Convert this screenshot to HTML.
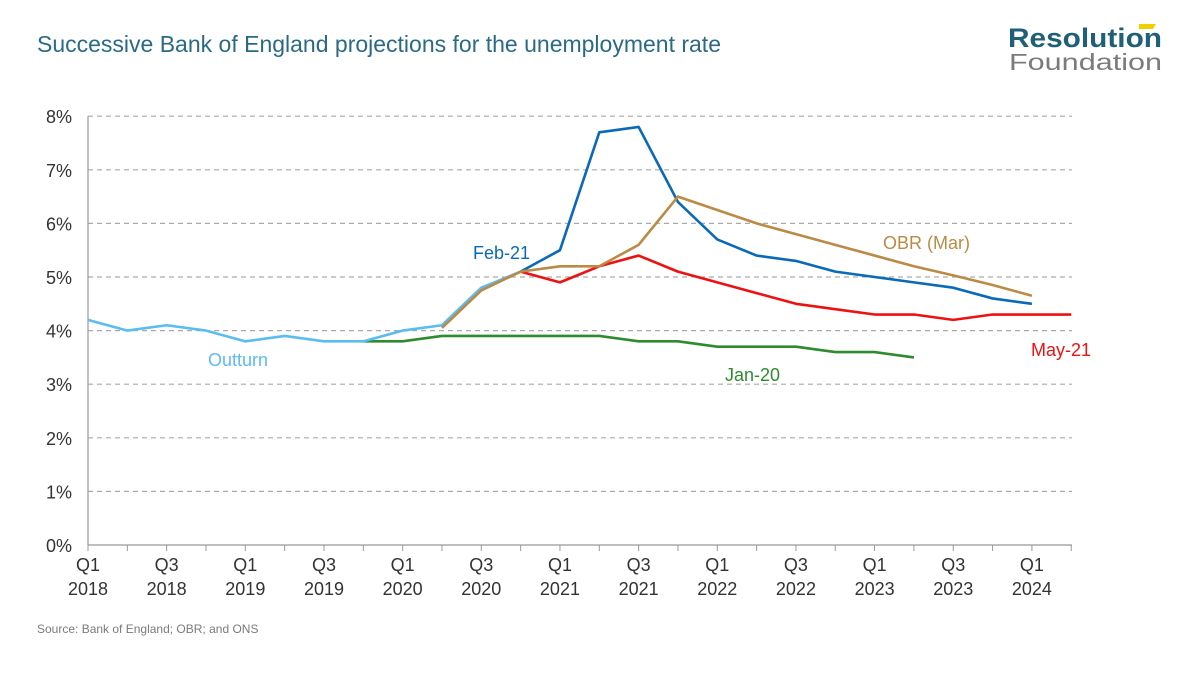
<!DOCTYPE html>
<html><head><meta charset="utf-8"><style>
body{margin:0;background:#fff;font-family:"Liberation Sans",sans-serif}
svg{display:block}
</style></head><body>
<svg id="c" width="1200" height="675">
<text x="37" y="52" font-size="23" fill="#2b6a86">Successive Bank of England projections for the unemployment rate</text>
<g>
<text x="1008" y="47" font-size="27" font-weight="bold" fill="#1f5f78" textLength="154" lengthAdjust="spacingAndGlyphs">Resolution</text>
<polygon points="1139,24 1156,24 1153,29 1139,29" fill="#f2d000"/>
<text x="1009" y="70" font-size="23" fill="#7b7b7b" textLength="153" lengthAdjust="spacingAndGlyphs">Foundation</text>
</g>
<text x="37" y="633" font-size="12" fill="#7b7b7b">Source: Bank of England; OBR; and ONS</text>
<g id="grid"></g><g id="axes"></g><g id="series"></g><g id="labels"></g>
</svg>
<script>
const yTicks=[0,1,2,3,4,5,6,7,8];
const xTickLabels=[["Q1","2018"],["Q3","2018"],["Q1","2019"],["Q3","2019"],["Q1","2020"],["Q3","2020"],["Q1","2021"],["Q3","2021"],["Q1","2022"],["Q3","2022"],["Q1","2023"],["Q3","2023"],["Q1","2024"]];
const outturnStart=0;
const outturn=[4.2,4.0,4.1,4.0,3.8,3.9,3.8,3.8,4.0,4.1,4.8,5.1];
const jan20Start=7;
const jan20=[3.8,3.8,3.9,3.9,3.9,3.9,3.9,3.8,3.8,3.7,3.7,3.7,3.6,3.6,3.5];
const feb21Start=11;
const feb21=[5.1,5.5,7.7,7.8,6.4,5.7,5.4,5.3,5.1,5.0,4.9,4.8,4.6,4.5];
const obrStart=9;
const obr=[4.05,4.75,5.1,5.2,5.2,5.6,6.5,6.25,6.0,5.8,5.6,5.4,5.2,5.03,4.85,4.65];
const may21Start=11;
const may21=[5.1,4.9,5.2,5.4,5.1,4.9,4.7,4.5,4.4,4.3,4.3,4.2,4.3,4.3,4.3];

const X0=88,DX=39.33,Y0=545,DY=53.6;
const xs=i=>X0+i*DX, ys=v=>Y0-v*DY;
const NS="http://www.w3.org/2000/svg";
function mk(t,a,p){const e=document.createElementNS(NS,t);for(const k in a)e.setAttribute(k,a[k]);document.getElementById(p).appendChild(e);return e;}
yTicks.forEach(v=>{
 if(v>0){const l=mk('line',{x1:X0,x2:1072,y1:ys(v),y2:ys(v),stroke:'#aaa','stroke-dasharray':'5,4','stroke-width':1.2},'grid');
 
 }
 const t=mk('text',{x:72,y:ys(v)+7,'text-anchor':'end','font-size':18,fill:'#333'},'axes');t.textContent=v+'%';
 
 
});
const ax=mk('line',{x1:X0,x2:1072,y1:Y0,y2:Y0,stroke:'#999','stroke-width':1.2},'axes');


const ay=mk('line',{x1:X0,x2:X0,y1:ys(8),y2:Y0,stroke:'#999','stroke-width':1.2},'axes');


for(let i=0;i<=25;i++){mk('line',{x1:xs(i),x2:xs(i),y1:Y0,y2:Y0+6,stroke:'#999'},'axes');}
xTickLabels.forEach((l,i)=>{
 const t=mk('text',{x:xs(i*2),y:Y0+26,'text-anchor':'middle','font-size':18,fill:'#333'},'axes');
 t.innerHTML='<tspan x="'+xs(i*2)+'">'+l[0]+'</tspan><tspan x="'+xs(i*2)+'" dy="24">'+l[1]+'</tspan>';
 
 
});
function line(arr,start,col,name){
 const p=mk('polyline',{points:arr.map((v,i)=>xs(start+i)+','+ys(v)).join(' '),fill:'none',stroke:col,'stroke-width':2.6,'stroke-linejoin':'round'},'series');
 
 
}
line(jan20,jan20Start,'#2e8b2e','jan20-line');
line(outturn,outturnStart,'#5bbcf0','outturn-line');
line(may21,may21Start,'#ee1111','may21-line');
line(feb21,feb21Start,'#0a6ab8','feb21-line');
line(obr,obrStart,'#bb8a44','obr-line');
function lab(x,y,txt,col,name){const t=mk('text',{x:x,y:y,'font-size':18,fill:col},'labels');t.textContent=txt;
 
 }
lab(208,366,'Outturn','#5bbcf0','outturn-label');
lab(473,259,'Feb-21','#0a6ab8','feb21-label');
lab(883,249,'OBR (Mar)','#bb8a44','obr-label');
lab(1031,356,'May-21','#ee1111','may21-label');
lab(725,381,'Jan-20','#2e8b2e','jan20-label');
</script>
</body></html>
